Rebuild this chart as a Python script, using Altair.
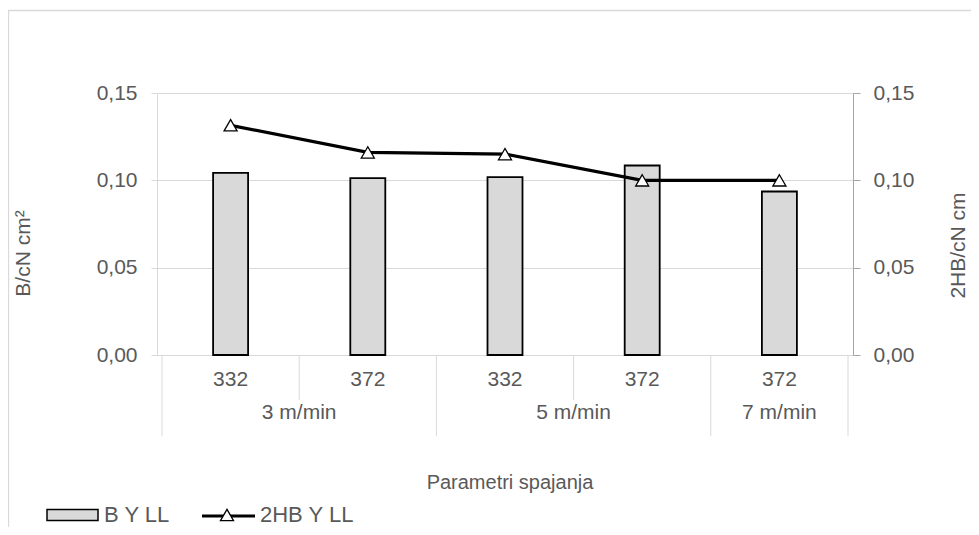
import altair as alt
import pandas as pd

# ---- data ----
categories = ["332", "372", "332", "372", "372"]
groups = ["3 m/min", "3 m/min", "5 m/min", "5 m/min", "7 m/min"]
b_values = [0.1043, 0.1013, 0.1018, 0.1085, 0.0936]
hb_values = [0.1315, 0.1160, 0.1150, 0.1000, 0.1000]
series_names = ["B Y LL", "2HB Y LL"]

W, H = 696, 262
FONT = "Liberation Sans"
GREY = "#595959"

idx = list(range(len(categories)))
df = pd.DataFrame({"i": idx, "cat": categories, "grp": groups, "b": b_values, "hb": hb_values})

# group centers and separator lines derived from categories
grp_rows = []
for g in dict.fromkeys(groups):
    members = [i for i, gg in enumerate(groups) if gg == g]
    grp_rows.append({"g": g, "c": (members[0] + members[-1]) / 2})
grp_df = pd.DataFrame(grp_rows)

sep_rows = []
for b in range(len(categories) + 1):
    pos = b - 0.5
    if b == 0 or b == len(categories) or groups[b - 1] != groups[b]:
        sep_rows.append({"x": pos, "long": 1})
    else:
        sep_rows.append({"x": pos, "long": 0})
sep_df = pd.DataFrame(sep_rows)

xscale = alt.Scale(domain=[-0.5, len(categories) - 0.5], nice=False, zero=False)
yscale = alt.Scale(domain=[0, 0.15], nice=False)
lab = "replace(format(datum.value, '.2f'), '.', ',')"

base = alt.Chart(df)

bars = base.mark_bar(size=35, fill="#d9d9d9", stroke="black", strokeWidth=1.8).encode(
    x=alt.X("i:Q", scale=xscale, axis=None),
    y=alt.Y("b:Q", scale=yscale,
            axis=alt.Axis(title="B/cN cm²", values=[0, 0.05, 0.10, 0.15], labelExpr=lab,
                          grid=True, gridColor="#d9d9d9", domainColor="#d9d9d9",
                          tickColor="#d9d9d9", tickSize=6, labelPadding=14,
                          labelFontSize=21, labelColor=GREY, labelFont=FONT,
                          titleFontSize=21, titleFont=FONT, titleColor=GREY,
                          titleFontWeight="normal", titleAngle=-90, titleX=-134, titleY=160,
                          titleAlign="center", titleBaseline="middle")),
)

line = base.mark_line(color="black", strokeWidth=3.2).encode(
    x=alt.X("i:Q", scale=xscale, axis=None),
    y=alt.Y("hb:Q", scale=yscale,
            axis=alt.Axis(title="2HB/cN cm", orient="right", values=[0, 0.05, 0.10, 0.15],
                          labelExpr=lab, grid=False, domainColor="#a6a6a6",
                          tickColor="#a6a6a6", tickSize=7, labelPadding=13,
                          labelFontSize=21, labelColor=GREY, labelFont=FONT,
                          titleFontSize=21, titleFont=FONT, titleColor=GREY,
                          titleFontWeight="normal", titleAngle=-90, titleX=105, titleY=152,
                          titleAlign="center", titleBaseline="middle")),
)
pts = base.mark_point(shape="triangle-up", filled=True, fill="white", stroke="black",
                      strokeWidth=1.3, size=170, opacity=1).encode(
    x=alt.X("i:Q", scale=xscale, axis=None),
    y=alt.Y("hb:Q", scale=yscale, axis=None),
)

cat_text = base.mark_text(fontSize=21, font=FONT, color=GREY, baseline="middle").encode(
    x=alt.X("i:Q", scale=xscale, axis=None), y=alt.value(287), text="cat:N")
grp_text = alt.Chart(grp_df).mark_text(fontSize=21, font=FONT, color=GREY, baseline="middle").encode(
    x=alt.X("c:Q", scale=xscale, axis=None), y=alt.value(320), text="g:N")

sep_short = alt.Chart(sep_df[sep_df.long == 0]).mark_rule(color="#d9d9d9", strokeWidth=1).encode(
    x=alt.X("x:Q", scale=xscale, axis=None), y=alt.value(H), y2=alt.value(307))
sep_long = alt.Chart(sep_df[sep_df.long == 1]).mark_rule(color="#d9d9d9", strokeWidth=1).encode(
    x=alt.X("x:Q", scale=xscale, axis=None), y=alt.value(H), y2=alt.value(343))

one = pd.DataFrame({"a": [0]})
border = alt.Chart(one).mark_rect(fill=None, stroke="#d9d9d9", strokeWidth=1.3).encode(
    x=alt.value(-148.5), x2=alt.value(900), y=alt.value(-82.5), y2=alt.value(500))

xtitle = alt.Chart(one).mark_text(text="Parametri spajanja", fontSize=20, font=FONT,
                                  color=GREY, baseline="middle").encode(
    x=alt.value(353), y=alt.value(390))

leg_rect = alt.Chart(one).mark_rect(fill="#d9d9d9", stroke="black", strokeWidth=1.5).encode(
    x=alt.value(-110), x2=alt.value(-59), y=alt.value(416.5), y2=alt.value(427.5))
leg_t1 = alt.Chart(one).mark_text(text=series_names[0], fontSize=22, font=FONT, color=GREY,
                                  align="left", baseline="middle").encode(
    x=alt.value(-53), y=alt.value(422))
leg_line = alt.Chart(one).mark_rule(color="black", strokeWidth=3).encode(
    x=alt.value(45), x2=alt.value(98), y=alt.value(423))
leg_tri = alt.Chart(one).mark_point(shape="triangle-up", filled=True, fill="white", stroke="black",
                                    strokeWidth=1.3, size=170, opacity=1).encode(
    x=alt.value(70), y=alt.value(422))
leg_t2 = alt.Chart(one).mark_text(text=series_names[1], fontSize=22, font=FONT, color=GREY,
                                  align="left", baseline="middle").encode(
    x=alt.value(103), y=alt.value(422))

chart = alt.layer(
    border, sep_short, sep_long, bars, line, pts, cat_text, grp_text, xtitle,
    leg_rect, leg_t1, leg_line, leg_tri, leg_t2
).resolve_scale(y="independent").properties(
    width=W, height=H,
    autosize=alt.AutoSizeParams(type="none"),
    padding={"left": 149, "top": 85, "right": 118, "bottom": 172},
).configure_view(stroke=None).configure(background="white")

chart.save("out.html", embed_options={"renderer": "svg", "actions": False})
